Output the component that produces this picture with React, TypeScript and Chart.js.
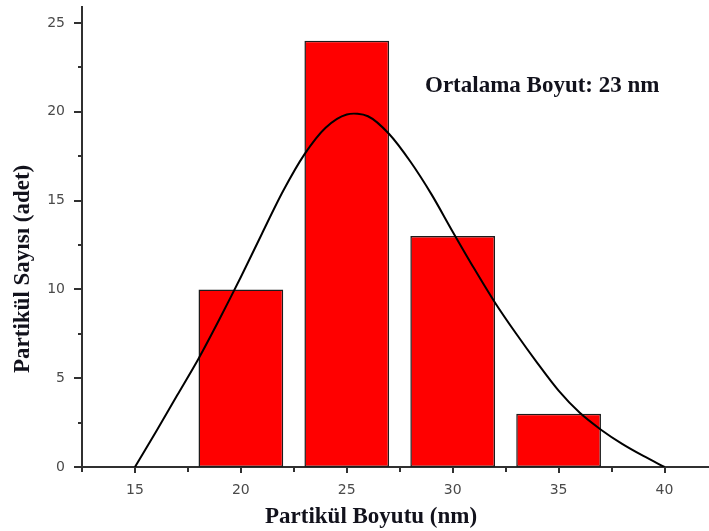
import { useEffect, useRef } from "react";
import { Chart, registerables } from "chart.js";

Chart.register(...registerables);

// Histogram bins (bin centre in nm) and particle counts
const BIN_CENTERS = [20, 25, 30, 35];
const BIN_COUNTS = [10, 24, 13, 3];

// Fitted distribution curve
const FIT_X = [15, 16, 17, 18, 19, 20, 21, 22, 23, 24, 25, 26, 27, 28, 29, 30, 31, 32, 33, 34, 35, 36, 37, 38, 39, 40];
const FIT_Y = [0, 2.0, 4.05, 6.1, 8.35, 10.7, 13.15, 15.55, 17.6, 19.1, 19.85, 19.75, 18.75, 17.2, 15.35, 13.25, 11.2, 9.25, 7.5, 5.85, 4.3, 3.05, 2.1, 1.3, 0.62, 0];

// Axis ticks
const X_MAJOR_TICKS = [15, 20, 25, 30, 35, 40];
const X_MINOR_TICKS = [12.5, 17.5, 22.5, 27.5, 32.5, 37.5];
const Y_MAJOR_TICKS = [0, 5, 10, 15, 20, 25];
const Y_MINOR_TICKS = [2.5, 7.5, 12.5, 17.5, 22.5];

const X_TITLE = "Partikül Boyutu (nm)";
const Y_TITLE = "Partikül Sayısı (adet)";
const NOTE = "Ortalama Boyut: 23 nm";

const AXIS_COLOR = "#303030";
const TEXT_COLOR = "#12121c";
const TICK_LABEL_COLOR = "#4a4a4a";
const SERIF_BOLD = 'bold 23px "Liberation Serif", "Times New Roman", serif';

const axisDecor = {
  id: "axisDecor",
  afterDraw(chart: any) {
    const { ctx, chartArea } = chart;
    const xs = chart.scales.x;
    const ys = chart.scales.y;
    ctx.save();
    ctx.strokeStyle = AXIS_COLOR;
    ctx.lineWidth = 2;
    ctx.beginPath();
    const xTick = (v: number, len: number) => {
      const px = Math.round(xs.getPixelForValue(v));
      ctx.moveTo(px, chartArea.bottom);
      ctx.lineTo(px, chartArea.bottom + len);
    };
    const yTick = (v: number, len: number) => {
      const py = Math.round(ys.getPixelForValue(v));
      ctx.moveTo(chartArea.left, py);
      ctx.lineTo(chartArea.left - len, py);
    };
    X_MAJOR_TICKS.forEach((v) => xTick(v, 6));
    X_MINOR_TICKS.forEach((v) => xTick(v, 5));
    Y_MAJOR_TICKS.forEach((v) => yTick(v, 8));
    Y_MINOR_TICKS.forEach((v) => yTick(v, 4));
    ctx.stroke();

    ctx.fillStyle = TEXT_COLOR;
    ctx.font = SERIF_BOLD;
    ctx.textAlign = "left";
    ctx.textBaseline = "alphabetic";
    ctx.fillText(X_TITLE, 265, 523);
    ctx.fillText(NOTE, chartArea.left + 343, 92);

    ctx.translate(29, 373);
    ctx.rotate(-Math.PI / 2);
    ctx.fillText(Y_TITLE, 0, 0);
    ctx.restore();
  },
};

export default function App() {
  const canvasRef = useRef<HTMLCanvasElement | null>(null);

  useEffect(() => {
    if (!canvasRef.current) return;
    const chart = new Chart(canvasRef.current, {
      type: "bar",
      data: {
        datasets: [
          {
            type: "line",
            data: FIT_X.map((x, i) => ({ x, y: FIT_Y[i] })),
            borderColor: "#000000",
            borderWidth: 2,
            pointRadius: 0,
            tension: 0.3,
            fill: false,
            order: 0,
          } as any,
          {
            type: "bar",
            data: BIN_CENTERS.map((x, i) => ({ x, y: BIN_COUNTS[i] })),
            backgroundColor: "#ff0000",
            borderColor: "#1c1c1c",
            borderWidth: 1.5,
            borderSkipped: false,
            barPercentage: 1,
            categoryPercentage: 0.8,
            order: 1,
          } as any,
        ],
      },
      options: {
        animation: false,
        responsive: true,
        maintainAspectRatio: false,
        layout: { autoPadding: false, padding: { top: 7, right: 0, left: 0, bottom: 0 } },
        plugins: {
          legend: { display: false },
          tooltip: { enabled: false },
        },
        scales: {
          x: {
            type: "linear",
            min: 12.5,
            max: 42.1,
            offset: false,
            grid: { display: false, drawTicks: false },
            border: { display: true, color: AXIS_COLOR, width: 2 },
            afterBuildTicks: (s: any) => {
              s.ticks = X_MAJOR_TICKS.map((value) => ({ value }));
            },
            afterFit: (s: any) => {
              s.height = 64;
              s.paddingLeft = 0;
              s.paddingRight = 0;
              s.paddingTop = 0;
              s.paddingBottom = 0;
            },
            ticks: {
              padding: 15,
              color: TICK_LABEL_COLOR,
              font: { family: '"DejaVu Sans", sans-serif', size: 14 },
              maxRotation: 0,
              autoSkip: false,
            },
          },
          y: {
            type: "linear",
            min: 0,
            max: 25.9,
            grid: { display: false, drawTicks: false },
            border: { display: true, color: AXIS_COLOR, width: 2 },
            afterBuildTicks: (s: any) => {
              s.ticks = Y_MAJOR_TICKS.map((value) => ({ value }));
            },
            afterFit: (s: any) => {
              s.width = 82;
              s.paddingLeft = 0;
              s.paddingRight = 0;
              s.paddingTop = 0;
              s.paddingBottom = 0;
            },
            ticks: {
              padding: 17,
              color: TICK_LABEL_COLOR,
              font: { family: '"DejaVu Sans", sans-serif', size: 14 },
              autoSkip: false,
            },
          },
        },
      } as any,
      plugins: [axisDecor],
    });
    return () => chart.destroy();
  }, []);

  return (
    <div style={{ position: "absolute", left: 0, top: 0, width: 709, height: 531, background: "#ffffff" }}>
      <canvas ref={canvasRef} />
    </div>
  );
}
